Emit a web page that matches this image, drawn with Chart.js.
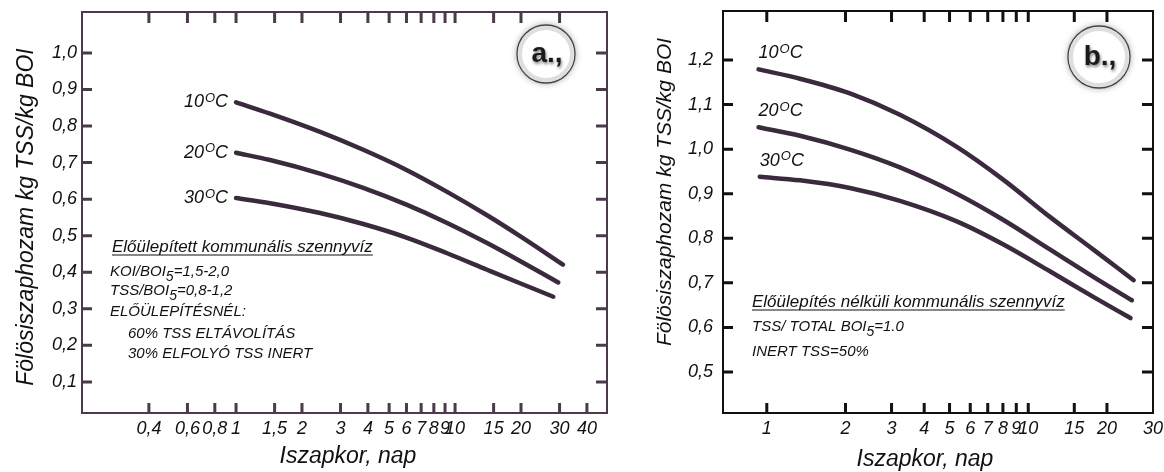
<!DOCTYPE html>
<html>
<head>
<meta charset="utf-8">
<script src="https://cdn.jsdelivr.net/npm/chart.js@4.4.1/dist/chart.umd.min.js"></script>
<style>
  html, body { margin: 0; padding: 0; background: #fff; }
  #wrap { position: relative; width: 1164px; height: 472px; }
  canvas { position: absolute; top: 0; }
  #cA { left: 0; }
  #cB { left: 612px; }
</style>
</head>
<body>
<div id="wrap">
  <canvas id="cA" width="612" height="472"></canvas>
  <canvas id="cB" width="552" height="472"></canvas>
</div>
<script>
// a., elöülepített szennyvíz
var xTicksA = [0.4, 0.6, 0.8, 1, 1.5, 2, 3, 4, 5, 6, 7, 8, 9, 10, 15, 20, 30, 40];
var xLabelsA = ['0,4', '0,6', '0,8', '1', '1,5', '2', '3', '4', '5', '6', '7', '8', '9', '10', '15', '20', '30', '40'];
var yTicksA = [0.1, 0.2, 0.3, 0.4, 0.5, 0.6, 0.7, 0.8, 0.9, 1.0];

var a10x = [1, 1.43, 2.42, 3.81, 6, 9.2, 14, 19.8, 31.1];
var a10y = [0.865, 0.834, 0.784, 0.735, 0.68, 0.62, 0.556, 0.499, 0.421];
var a20x = [1, 1.43, 2.42, 3.81, 6, 9.2, 14, 19.8, 29.6];
var a20y = [0.727, 0.707, 0.67, 0.631, 0.585, 0.535, 0.48, 0.431, 0.372];
var a30x = [1, 1.43, 2.42, 3.81, 6, 9.2, 14, 19.8, 28.1];
var a30y = [0.603, 0.589, 0.562, 0.532, 0.495, 0.452, 0.407, 0.37, 0.333];

// b., elöülepítés nélkül
var xTicksB = [1, 2, 3, 4, 5, 6, 7, 8, 9, 10, 15, 20, 30];
var xLabelsB = ['1', '2', '3', '4', '5', '6', '7', '8', '9', '10', '15', '20', '30'];
var yTicksB = [0.5, 0.6, 0.7, 0.8, 0.9, 1.0, 1.1, 1.2];

var b10x = [0.93, 1.34, 2.08, 3.23, 5.33, 8.04, 12.1, 17.8, 25.3];
var b10y = [1.179, 1.158, 1.125, 1.077, 1.005, 0.931, 0.848, 0.774, 0.706];
var b20x = [0.93, 1.34, 2.08, 3.23, 5.33, 8.04, 12.1, 17.8, 24.9];
var b20y = [1.049, 1.03, 0.999, 0.959, 0.9, 0.841, 0.775, 0.713, 0.661];
var b30x = [0.94, 1.34, 2.08, 3.23, 5.33, 8.04, 12.1, 17.8, 24.6];
var b30y = [0.938, 0.93, 0.913, 0.884, 0.838, 0.786, 0.726, 0.668, 0.621];

var temps = ['10', '20', '30'];

var FAM = '"Liberation Sans", Arial, sans-serif';
var INK = '#111111';
var CURVE = '#3b2a3e';

function pts(xs, ys) {
  return xs.map(function (x, i) { return { x: x, y: ys[i] }; });
}

function richText(ctx, parts, x, y, size) {
  var cx = x;
  parts.forEach(function (p) {
    var sub = p[1] === 'sub';
    ctx.font = 'italic ' + (sub ? size - 1 : size) + 'px ' + FAM;
    ctx.fillText(p[0], cx, sub ? y + 5 : y);
    cx += ctx.measureText(p[0]).width;
  });
  return cx - x;
}

function tempLabel(ctx, num, x, y, alignRight) {
  var big = 'italic 18px ' + FAM, small = 'italic 13px ' + FAM;
  ctx.font = big;
  var w1 = ctx.measureText(num).width, w3 = ctx.measureText('C').width;
  ctx.font = small;
  var w2 = ctx.measureText('O').width;
  var x0 = alignRight ? x - (w1 + w2 + w3 + 1) : x;
  ctx.font = big; ctx.fillText(num, x0, y);
  ctx.font = small; ctx.fillText('O', x0 + w1 + 1, y - 4);
  ctx.font = big; ctx.fillText('C', x0 + w1 + w2 + 1, y);
}

function badge(ctx, b) {
  ctx.save();
  ctx.shadowColor = 'rgba(0,0,0,0.4)';
  ctx.shadowBlur = 7;
  ctx.beginPath(); ctx.arc(b.x, b.y, b.r, 0, 2 * Math.PI);
  ctx.fillStyle = '#fff'; ctx.fill();
  ctx.shadowColor = 'transparent';
  ctx.lineWidth = 4; ctx.strokeStyle = '#dedede';
  ctx.beginPath(); ctx.arc(b.x, b.y, b.r - 3, 0, 2 * Math.PI); ctx.stroke();
  ctx.lineWidth = 1.3; ctx.strokeStyle = '#444';
  ctx.beginPath(); ctx.arc(b.x, b.y, b.r, 0, 2 * Math.PI); ctx.stroke();
  ctx.shadowColor = 'rgba(0,0,0,0.5)';
  ctx.shadowBlur = 3; ctx.shadowOffsetX = 1; ctx.shadowOffsetY = 2;
  ctx.font = 'bold 28px ' + FAM;
  ctx.fillStyle = '#1a1a1a';
  ctx.textAlign = 'center'; ctx.textBaseline = 'middle';
  ctx.fillText(b.text, b.x + 1, b.y);
  ctx.restore();
}

// frame with inward ticks, titles, notes
var decor = {
  id: 'decor',
  afterDraw: function (chart, args, o) {
    var ctx = chart.ctx, a = chart.chartArea, sx = chart.scales.x, sy = chart.scales.y;
    ctx.save();
    ctx.strokeStyle = o.frame;
    ctx.lineWidth = 2;
    ctx.strokeRect(a.left, a.top, a.right - a.left, a.bottom - a.top);
    ctx.lineWidth = 3;
    ctx.beginPath();
    sx.ticks.forEach(function (t) {
      var p = sx.getPixelForValue(t.value);
      if (p <= a.left + 1 || p >= a.right - 1) return;
      ctx.moveTo(p, a.bottom); ctx.lineTo(p, a.bottom - 10);
      if ((o.noTop || []).indexOf(t.value) < 0) {
        ctx.moveTo(p, a.top); ctx.lineTo(p, a.top + 11);
      }
    });
    sy.ticks.forEach(function (t) {
      var p = sy.getPixelForValue(t.value);
      ctx.moveTo(a.left, p); ctx.lineTo(a.left + 10, p);
      ctx.moveTo(a.right, p); ctx.lineTo(a.right - 11, p);
    });
    ctx.stroke();

    ctx.fillStyle = INK;
    ctx.textBaseline = 'middle';

    // axis titles
    ctx.textAlign = 'center';
    ctx.font = 'italic ' + o.xTitle.size + 'px ' + FAM;
    ctx.fillText(o.xTitle.text, o.xTitle.x, o.xTitle.y);
    ctx.save();
    ctx.translate(o.yTitle.x, o.yTitle.y);
    ctx.rotate(-Math.PI / 2);
    ctx.font = 'italic ' + o.yTitle.size + 'px ' + FAM;
    ctx.fillText(o.yTitle.text, 0, 0);
    ctx.restore();

    // temperature labels at the start of each curve
    ctx.textAlign = 'left';
    temps.forEach(function (t, i) {
      var p0 = chart.getDatasetMeta(i).data[0];
      if (o.tempAbove) tempLabel(ctx, t, p0.x, p0.y - 16, false);
      else tempLabel(ctx, t, p0.x - 8, p0.y, true);
    });

    // notes
    o.notes.forEach(function (n) {
      var w = richText(ctx, n.parts, n.x, n.y, n.size);
      if (n.underline) {
        ctx.lineWidth = 1.2; ctx.strokeStyle = INK;
        ctx.beginPath(); ctx.moveTo(n.x, n.y + 8); ctx.lineTo(n.x + w, n.y + 8); ctx.stroke();
      }
    });
    ctx.restore();

    badge(ctx, o.badge);
  }
};

function makeChart(id, c) {
  var tickFont = { family: FAM, size: 18, style: 'italic' };
  return new Chart(document.getElementById(id), {
    type: 'line',
    data: {
      datasets: c.series.map(function (s) {
        return {
          data: s, borderColor: CURVE, borderWidth: 4.5, pointRadius: 0,
          cubicInterpolationMode: 'monotone', borderCapStyle: 'round', fill: false
        };
      })
    },
    options: {
      responsive: false,
      animation: false,
      events: [],
      layout: { padding: c.pad },
      plugins: { legend: { display: false }, tooltip: { enabled: false }, decor: c.decor },
      scales: {
        x: {
          type: 'logarithmic', min: c.xMin, max: c.xMax, bounds: 'data',
          afterBuildTicks: function (s) { s.ticks = c.xTicks.map(function (v) { return { value: v }; }); },
          afterFit: function (s) { s.height = 59; s.paddingLeft = 0; s.paddingRight = 0; },
          grid: { display: false, drawTicks: false },
          border: { display: false },
          ticks: {
            autoSkip: false, maxRotation: 0, minRotation: 0, padding: 5, color: INK, font: tickFont,
            callback: function (v, i) { return c.xLabels[i]; }
          }
        },
        y: {
          type: 'linear', min: c.yMin, max: c.yMax, bounds: 'data',
          afterBuildTicks: function (s) { s.ticks = c.yTicks.map(function (v) { return { value: v }; }); },
          afterFit: function (s) { s.width = c.yWidth; s.paddingTop = 0; s.paddingBottom = 0; },
          grid: { display: false, drawTicks: false },
          border: { display: false },
          ticks: {
            padding: c.yPad, color: INK, font: tickFont,
            callback: function (v) { return v.toFixed(1).replace('.', ','); }
          }
        }
      }
    },
    plugins: [decor]
  });
}

var yTitleText = 'Fölösiszaphozam kg TSS/kg BOI';

makeChart('cA', {
  series: [pts(a10x, a10y), pts(a20x, a20y), pts(a30x, a30y)],
  xTicks: xTicksA, xLabels: xLabelsA, yTicks: yTicksA,
  xMin: 0.198, xMax: 49.4, yMin: 0.015, yMax: 1.112,
  pad: { top: 12, right: 5, left: 0, bottom: 0 }, yWidth: 82, yPad: 5,
  decor: {
    frame: '#4a3a4c',
    noTop: [40],
    tempAbove: false,
    xTitle: { text: 'Iszapkor, nap', x: 348, y: 457, size: 23 },
    yTitle: { text: yTitleText, x: 27, y: 217, size: 23 },
    badge: { x: 546, y: 54, r: 29, text: 'a.,' },
    notes: [
      { parts: [['Előülepített kommunális szennyvíz']], x: 112, y: 247, size: 17, underline: true },
      { parts: [['KOI/BOI'], ['5', 'sub'], ['=1,5-2,0']], x: 110, y: 272, size: 15 },
      { parts: [['TSS/BOI'], ['5', 'sub'], ['=0,8-1,2']], x: 110, y: 291, size: 15 },
      { parts: [['ELŐÜLEPÍTÉSNÉL:']], x: 110, y: 312, size: 15 },
      { parts: [['60% TSS ELTÁVOLÍTÁS']], x: 128, y: 334, size: 15 },
      { parts: [['30% ELFOLYÓ TSS INERT']], x: 128, y: 354, size: 15 }
    ]
  }
});

makeChart('cB', {
  series: [pts(b10x, b10y), pts(b20x, b20y), pts(b30x, b30y)],
  xTicks: xTicksB, xLabels: xLabelsB, yTicks: yTicksB,
  xMin: 0.68, xMax: 30, yMin: 0.408, yMax: 1.31,
  pad: { top: 11, right: 11, left: 0, bottom: 0 }, yWidth: 111, yPad: 10,
  decor: {
    frame: '#111111',
    noTop: [],
    tempAbove: true,
    xTitle: { text: 'Iszapkor, nap', x: 313, y: 460, size: 23 },
    yTitle: { text: yTitleText, x: 53, y: 192, size: 21 },
    badge: { x: 487, y: 57, r: 31, text: 'b.,' },
    notes: [
      { parts: [['Előülepítés nélküli kommunális szennyvíz']], x: 140, y: 302, size: 17, underline: true },
      { parts: [['TSS/ TOTAL BOI'], ['5', 'sub'], ['=1.0']], x: 140, y: 327, size: 15 },
      { parts: [['INERT TSS=50%']], x: 140, y: 352, size: 15 }
    ]
  }
});
</script>
</body>
</html>
